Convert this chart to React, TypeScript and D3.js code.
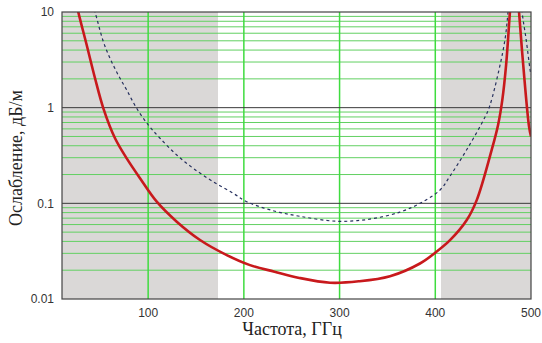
import React from "react";
import * as d3 from "d3";

// frequency, GHz and attenuation, dB/m
const solidFreq = [22, 27, 35.8, 44.5, 53.2, 65.4, 77.6, 91.5, 109, 129.9, 154.2, 182.1, 206.4, 232, 258, 290, 320, 352.7, 384, 400, 415.4, 432.9, 443.3, 459, 465.6, 470, 474, 478, 480.5, 483, 485.5, 487.5, 492, 498, 500];
const solidVals = [17, 10, 4.52, 2.03, 0.985, 0.479, 0.295, 0.183, 0.104, 0.0643, 0.0414, 0.0288, 0.0226, 0.0193, 0.0166, 0.0148, 0.0153, 0.0173, 0.0235, 0.0305, 0.0412, 0.0669, 0.108, 0.364, 0.66, 1.2, 2.8, 10, 20, 28, 18, 10, 2.7, 0.63, 0.5];

const dashFreq = [40, 44.5, 53.2, 60.2, 68.8, 77.6, 88, 100.2, 112.4, 129.9, 147.2, 168, 189, 203, 230, 259, 297, 330, 363, 384, 405, 415, 434, 452, 457, 467, 473, 476, 480, 483, 487, 490.7, 495, 499, 500];
const dashVals = [14, 10, 4.9, 3.28, 2.19, 1.53, 0.985, 0.659, 0.479, 0.32, 0.232, 0.168, 0.127, 0.104, 0.084, 0.073, 0.065, 0.068, 0.081, 0.1, 0.138, 0.19, 0.38, 0.8, 1.05, 2.6, 5.3, 10, 30, 45, 30, 10, 5.1, 2.5, 2.2];

const xTicks = [100, 200, 300, 400, 500];
const yTicks = [10, 1, 0.1, 0.01];
const yTickLabels = ["10", "1", "0.1", "0.01"];
const grayBands: [number, number][] = [[10, 173], [406, 500]];

const W = 542;
const H = 343;
const m = { left: 62, right: 11, top: 12, bottom: 44 };

export default function App() {
  const x = d3.scaleLinear().domain([10, 500]).range([m.left, W - m.right]);
  const y = d3.scaleLog().domain([0.01, 10]).range([H - m.bottom, m.top]);

  const minor: number[] = [];
  [0.01, 0.1, 1].forEach((d) => {
    for (let k = 2; k <= 9; k++) minor.push(d * k);
  });

  const line = d3
    .line<[number, number]>()
    .x((d) => x(d[0]))
    .y((d) => y(d[1]))
    .curve(d3.curveCatmullRom.alpha(0.5));

  const solid = solidFreq.map((f, i) => [f, solidVals[i]] as [number, number]);
  const dashed = dashFreq.map((f, i) => [f, dashVals[i]] as [number, number]);

  const [x0, x1] = x.range();
  const [y0, y1] = y.range();

  return (
    <svg width={W} height={H} style={{ position: "absolute", left: 0, top: 0 }}>
      <defs>
        <clipPath id="plot">
          <rect x={x0} y={y1} width={x1 - x0} height={y0 - y1} />
        </clipPath>
      </defs>
      <rect x={0} y={0} width={W} height={H} fill="#fff" />
      {grayBands.map(([a, b], i) => (
        <rect key={i} x={x(a)} y={y1} width={x(b) - x(a)} height={y0 - y1} fill="#dad8d7" />
      ))}
      {minor.map((v) => (
        <line key={v} x1={x0} x2={x1} y1={y(v)} y2={y(v)} stroke="#62d062" strokeWidth={1} />
      ))}
      {xTicks.slice(0, 4).map((t) => (
        <line key={t} x1={x(t)} x2={x(t)} y1={y1} y2={y0} stroke="#3fdc3f" strokeWidth={1.5} />
      ))}
      {[1, 0.1].map((v) => (
        <line key={v} x1={x0} x2={x1} y1={y(v)} y2={y(v)} stroke="#3a3a3a" strokeWidth={1} />
      ))}
      <g clipPath="url(#plot)">
        <path d={line(dashed) ?? ""} fill="none" stroke="#26305e" strokeWidth={1.2} strokeDasharray="3,3" />
        <path d={line(solid) ?? ""} fill="none" stroke="#c8191c" strokeWidth={2.6} />
      </g>
      <rect x={x0} y={y1} width={x1 - x0} height={y0 - y1} fill="none" stroke="#444" strokeWidth={1.2} />
      <g fontFamily="Liberation Sans, Arial, sans-serif" fontSize={12} fill="#333">
        {yTicks.map((t, i) => (
          <text key={t} x={x0 - 8} y={y(t)} dy="0.35em" textAnchor="end">
            {yTickLabels[i]}
          </text>
        ))}
        {xTicks.map((t) => (
          <text key={t} x={x(t)} y={y0 + 18} textAnchor="middle">
            {t}
          </text>
        ))}
      </g>
      <g fontFamily="Liberation Serif, Times New Roman, serif" fontSize={18} fill="#222">
        <text x={292} y={335} textAnchor="middle">
          Частота, ГГц
        </text>
        <text transform="translate(22, 158) rotate(-90)" textAnchor="middle">
          Ослабление, дБ/м
        </text>
      </g>
    </svg>
  );
}
